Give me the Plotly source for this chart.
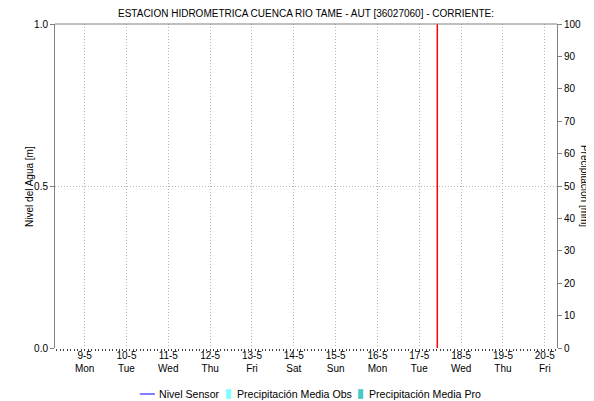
import plotly.graph_objects as go
import pandas as pd

# datos
dias = pd.date_range("2022-05-09", "2022-05-20", freq="D")
etiquetas = [f"{d.day}-{d.month}<br>{d.strftime('%a')}" for d in dias]
rango_x = ["2022-05-08 07:00", "2022-05-20 07:00"]
hora_actual = "2022-05-17 10:20"
nivel_sensor = [None]
precip_obs = [None]
precip_pro = [None]

FONT = "Liberation Sans, Arial, sans-serif"
GRID = "#b8b8b8"
AXIS = "#808080"
C_NIVEL = "#0000ff"
C_OBS = "#80ffff"
C_PRO = "#48c8c8"

fig = go.Figure()
fig.add_trace(go.Scatter(x=[hora_actual], y=nivel_sensor, mode="lines", name="Nivel Sensor",
                         line=dict(color=C_NIVEL, width=1), showlegend=False))
fig.add_trace(go.Bar(x=[hora_actual], y=precip_obs, name="Precipitación Media Obs",
                     marker_color=C_OBS, yaxis="y2", showlegend=False))
fig.add_trace(go.Bar(x=[hora_actual], y=precip_pro, name="Precipitación Media Pro",
                     marker_color=C_PRO, yaxis="y2", showlegend=False))

# marca de hora actual
fig.add_shape(type="line", xref="x", yref="paper", x0=hora_actual, x1=hora_actual, y0=0, y1=1,
              line=dict(color="#ff0000", width=1.5))

# borde superior
fig.add_shape(type="line", xref="paper", yref="paper", x0=0, x1=1, y0=1, y1=1,
              line=dict(color=AXIS, width=1))

# leyenda compacta bajo el gráfico
ley_y = -0.142
fig.add_shape(type="line", xref="paper", yref="paper", x0=0.169, x1=0.199, y0=ley_y, y1=ley_y,
              line=dict(color=C_NIVEL, width=1))
fig.add_shape(type="rect", xref="paper", yref="paper", x0=0.341, x1=0.351, y0=-0.157, y1=-0.127,
              line=dict(width=0), fillcolor=C_OBS)
fig.add_shape(type="rect", xref="paper", yref="paper", x0=0.604, x1=0.614, y0=-0.157, y1=-0.127,
              line=dict(width=0), fillcolor=C_PRO)
leyenda = [("Nivel Sensor", 0.203), ("Precipitación Media Obs", 0.359),
           ("Precipitación Media Pro", 0.621)]

anots = [
    dict(text="ESTACION HIDROMETRICA CUENCA RIO TAME - AUT [36027060] - CORRIENTE:",
         xref="paper", yref="paper", x=0.5, y=1, xanchor="center", yanchor="bottom",
         yshift=3, showarrow=False, font=dict(family=FONT, size=10)),
    dict(text="Nivel del Agua [m]", textangle=-90, xref="paper", yref="paper",
         x=-0.052, y=0.5, xanchor="center", yanchor="middle", showarrow=False,
         font=dict(family=FONT, size=10)),
    dict(text="Precipitación [mm]", textangle=90, xref="paper", yref="paper",
         x=1.056, y=0.5, xanchor="center", yanchor="middle", showarrow=False,
         font=dict(family=FONT, size=10)),
]
for txt, xp in leyenda:
    anots.append(dict(text=txt, xref="paper", yref="paper", x=xp, y=ley_y, xanchor="left",
                      yanchor="middle", showarrow=False, font=dict(family=FONT, size=10.6)))

# la página tiene 8 px de margen, el lienzo es 8 px más pequeño
fig.update_layout(
    width=586, height=393,
    margin=dict(l=47, r=37, t=16, b=53, autoexpand=False),
    paper_bgcolor="white", plot_bgcolor="white",
    font=dict(family=FONT, size=10, color="#000000"),
    showlegend=False,
    xaxis=dict(
        type="date", range=rango_x, automargin=False,
        tickvals=list(dias), ticktext=etiquetas, tickangle=0,
        showgrid=True, gridcolor=GRID, griddash="1px,2px", gridwidth=1,
        ticks="", showline=False, zeroline=False,
        tickfont=dict(family=FONT, size=10),
        minor=dict(dtick=2 * 3600 * 1000, ticks="outside", ticklen=2, tickcolor="#404040",
                   showgrid=False),
    ),
    yaxis=dict(
        range=[0, 1], tickvals=[0, 0.5, 1], ticktext=["0.0", "0.5", "1.0"], automargin=False,
        showgrid=True, gridcolor=GRID, griddash="1px,2px", gridwidth=1,
        ticks="outside", ticklen=4, tickcolor=AXIS,
        showline=True, linecolor=AXIS, linewidth=1, mirror=False, zeroline=False,
        tickfont=dict(family=FONT, size=10),
    ),
    yaxis2=dict(
        range=[0, 100], dtick=10, overlaying="y", side="right", automargin=False,
        showgrid=False, ticks="outside", ticklen=4, tickcolor=AXIS,
        showline=True, linecolor=AXIS, linewidth=1, zeroline=False,
        tickfont=dict(family=FONT, size=10),
    ),
    annotations=anots,
)

fig.write_html("out.html")
